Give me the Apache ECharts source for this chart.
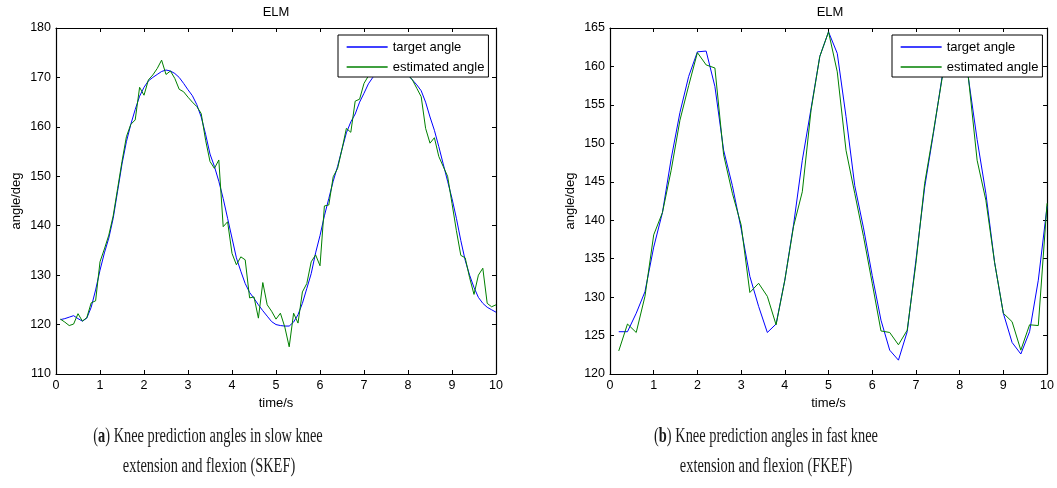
<!DOCTYPE html>
<html>
<head>
<meta charset="utf-8">
<script src="https://cdn.jsdelivr.net/npm/echarts@6/dist/echarts.min.js"></script>
<style>
  html, body { margin: 0; padding: 0; background: #fff; }
  #chart { width: 1057px; height: 488px; }
</style>
</head>
<body>
<div id="chart"></div>
<script>
// (a) slow knee extension/flexion, sampled every 0.1 s
const slowTime = [
  0.1, 0.2, 0.3, 0.4, 0.5, 0.6, 0.7, 0.8, 0.9, 1.0,
  1.1, 1.2, 1.3, 1.4, 1.5, 1.6, 1.7, 1.8, 1.9, 2.0,
  2.1, 2.2, 2.3, 2.4, 2.5, 2.6, 2.7, 2.8, 2.9, 3.0,
  3.1, 3.2, 3.3, 3.4, 3.5, 3.6, 3.7, 3.8, 3.9, 4.0,
  4.1, 4.2, 4.3, 4.4, 4.5, 4.6, 4.7, 4.8, 4.9, 5.0,
  5.1, 5.2, 5.3, 5.4, 5.5, 5.6, 5.7, 5.8, 5.9, 6.0,
  6.1, 6.2, 6.3, 6.4, 6.5, 6.6, 6.7, 6.8, 6.9, 7.0,
  7.1, 7.2, 7.3, 7.4, 7.5, 7.6, 7.7, 7.8, 7.9, 8.0,
  8.1, 8.2, 8.3, 8.4, 8.5, 8.6, 8.7, 8.8, 8.9, 9.0,
  9.1, 9.2, 9.3, 9.4, 9.5, 9.6, 9.7, 9.8, 9.9, 10.0
];
const slowTarget = [
  121.0, 121.2, 121.5, 121.8, 121.2, 120.7, 121.3, 123.5, 127.0, 131.0,
  134.5, 137.5, 141.5, 147.0, 152.5, 157.0, 160.5, 163.5, 166.2, 168.0,
  169.3, 170.0, 170.6, 171.2, 171.5, 171.3, 170.8, 170.0, 168.8, 167.5,
  166.3, 164.5, 162.0, 158.5, 154.5, 152.0, 149.0, 145.5, 141.5, 137.5,
  133.5, 130.8, 128.3, 126.5, 125.3, 124.0, 122.8, 121.7, 120.6, 120.0,
  119.8, 119.7, 119.7, 120.5, 122.0, 124.3, 127.3, 130.3, 134.5, 138.0,
  142.0, 145.5, 149.0, 152.0, 155.5, 158.8, 161.0, 162.6, 165.0, 166.8,
  168.7, 170.0, 171.0, 172.0, 172.5, 172.7, 172.5, 172.0, 171.3, 170.5,
  169.5, 168.5, 167.3, 165.0, 162.0, 159.3, 156.0, 152.5, 149.0, 145.5,
  141.5, 137.0, 133.0, 130.0, 127.5, 125.5, 124.3, 123.5, 123.0, 122.5
];
const slowEstimated = [
  121.1, 120.5, 119.8, 120.1, 122.2, 120.7, 121.4, 124.4, 124.8, 132.7,
  135.3, 138.1, 142.0, 147.5, 153.0, 158.0, 160.5, 161.4, 168.0, 166.4,
  169.5, 170.5, 171.8, 173.5, 170.6, 171.3, 169.8, 167.6, 167.1, 166.0,
  165.0, 164.1, 162.7, 157.3, 153.0, 151.6, 153.3, 139.8, 140.8, 134.4,
  132.1, 133.7, 133.1, 125.4, 125.6, 121.3, 128.5, 124.0, 122.7, 121.1,
  122.3, 119.5, 115.5, 122.3, 120.3, 126.6, 128.3, 132.7, 134.1, 131.9,
  144.0, 144.2, 149.9, 151.6, 155.5, 159.7, 158.9, 165.2, 165.6, 168.8,
  170.3, 171.0, 172.0, 172.8, 172.5, 172.0, 171.8, 171.2, 170.8, 170.5,
  169.5, 167.8, 166.1, 159.7, 156.7, 157.8, 154.0, 152.0, 150.0, 144.5,
  139.0, 134.0, 133.5, 129.5, 126.1, 130.0, 131.4, 124.3, 123.6, 124.0
];

// (b) fast knee extension/flexion, sampled every 0.2 s
const fastTime = [
  0.2, 0.4, 0.6, 0.8, 1.0, 1.2, 1.4, 1.6, 1.8, 2.0,
  2.2, 2.4, 2.6, 2.8, 3.0, 3.2, 3.4, 3.6, 3.8, 4.0,
  4.2, 4.4, 4.6, 4.8, 5.0, 5.2, 5.4, 5.6, 5.8, 6.0,
  6.2, 6.4, 6.6, 6.8, 7.0, 7.2, 7.4, 7.6, 7.8, 8.0,
  8.2, 8.4, 8.6, 8.8, 9.0, 9.2, 9.4, 9.6, 9.8, 10.0
];
const fastTarget = [
  125.5, 125.5, 127.9, 130.7, 136.5, 141.0, 148.0, 154.0, 158.7, 161.9,
  162.0, 157.4, 149.1, 144.5, 138.9, 132.7, 128.8, 125.4, 126.5, 132.2,
  139.4, 147.8, 154.5, 161.3, 164.5, 161.7, 153.5, 144.5, 139.0, 132.8,
  127.0, 123.1, 121.8, 125.5, 134.8, 144.3, 151.3, 158.7, 162.0, 163.5,
  158.5, 150.5, 143.5, 134.5, 127.9, 124.1, 122.6, 125.5, 132.2, 141.8
];
const fastEstimated = [
  123.0, 126.5, 125.4, 130.1, 138.1, 141.0, 146.5, 153.0, 157.5, 161.8,
  160.2, 159.8, 148.5, 143.5, 139.4, 130.6, 131.8, 130.1, 126.4, 132.2,
  139.2, 143.7, 154.3, 161.3, 164.5, 159.3, 149.1, 143.5, 137.9, 131.8,
  125.6, 125.4, 123.8, 125.7, 134.4, 144.8, 151.5, 158.5, 161.5, 163.0,
  158.6, 147.8, 142.6, 134.5, 127.9, 126.8, 123.1, 126.4, 126.3, 142.2
];

const xTicks = { min: 0, max: 10, interval: 1 };
const slowTicks = { min: 110, max: 180, interval: 10 };
const fastTicks = { min: 120, max: 165, interval: 5 };

const font = "'Liberation Sans', Arial, sans-serif";
const serif = "'Liberation Serif', 'Times New Roman', serif";

function pairs(xs, ys) {
  return xs.map((x, i) => [x, ys[i]]);
}

// matlab style box: labelled axis + mirrored axis with inward ticks only
function makeX(grid, position, withLabel) {
  return {
    type: "value",
    gridIndex: grid,
    position: position,
    min: xTicks.min,
    max: xTicks.max,
    interval: xTicks.interval,
    name: withLabel ? "time/s" : "",
    nameLocation: "middle",
    nameGap: 22,
    nameTextStyle: { color: "#000", fontFamily: font, fontSize: 13 },
    axisLine: { show: true, onZero: false, lineStyle: { color: "#000", width: 1.2 } },
    axisTick: { show: true, inside: true, length: 4, lineStyle: { color: "#000" } },
    axisLabel: { show: withLabel, color: "#000", fontFamily: font, fontSize: 12.5, margin: 5 },
    splitLine: { show: false },
  };
}

function makeY(grid, position, ticks, withLabel, gap) {
  return {
    type: "value",
    gridIndex: grid,
    position: position,
    min: ticks.min,
    max: ticks.max,
    interval: ticks.interval,
    name: withLabel ? "angle/deg" : "",
    nameLocation: "middle",
    nameGap: gap,
    nameTextStyle: { color: "#000", fontFamily: font, fontSize: 13 },
    axisLine: { show: true, onZero: false, lineStyle: { color: "#000", width: 1.2 } },
    axisTick: { show: true, inside: true, length: 4, lineStyle: { color: "#000" } },
    axisLabel: { show: withLabel, color: "#000", fontFamily: font, fontSize: 12.5, margin: 5 },
    splitLine: { show: false },
  };
}

function makeLegend(left) {
  return {
    left: left,
    top: 35,
    orient: "vertical",
    data: ["target angle", "estimated angle"],
    backgroundColor: "#fff",
    borderColor: "#000",
    borderWidth: 1,
    borderRadius: 0,
    padding: [5, 4, 3, 8],
    itemWidth: 41,
    itemHeight: 14,
    itemGap: 6,
    selectedMode: false,
    // hide the circle marker, keep only the line sample
    itemStyle: { opacity: 0 },
    lineStyle: { width: 1.3 },
    textStyle: { color: "#000", fontFamily: font, fontSize: 13, lineHeight: 14 },
  };
}

function caption(x, y, tag, text) {
  return {
    type: "text",
    x: x,
    y: y,
    scaleX: 0.72,
    style: {
      text: "{p|(}{b|" + tag + "}{p|) " + text + "}",
      textAlign: "center",
      textVerticalAlign: "middle",
      fill: "#1a1a1a",
      rich: {
        p: { fontFamily: serif, fontSize: 20, color: "#1a1a1a" },
        b: { fontFamily: serif, fontSize: 20, fontWeight: "bold", color: "#1a1a1a" },
      },
    },
  };
}

function captionLine(x, y, text) {
  return {
    type: "text",
    x: x,
    y: y,
    scaleX: 0.72,
    style: {
      text: text,
      textAlign: "center",
      textVerticalAlign: "middle",
      fill: "#1a1a1a",
      font: "20px " + serif,
    },
  };
}

const chart = echarts.init(document.getElementById("chart"), null, { renderer: "canvas" });

chart.setOption({
  backgroundColor: "#fff",
  animation: false,
  title: [
    { text: "ELM", left: 276, top: 6, padding: 0, textAlign: "center",
      textStyle: { color: "#000", fontFamily: font, fontSize: 13, fontWeight: "normal" } },
    { text: "ELM", left: 830, top: 6, padding: 0, textAlign: "center",
      textStyle: { color: "#000", fontFamily: font, fontSize: 13, fontWeight: "normal" } },
  ],
  legend: [makeLegend(338), makeLegend(892)],
  grid: [
    { left: 56, top: 28, width: 440, height: 346 },
    { left: 610, top: 28, width: 440, height: 346 },
  ],
  xAxis: [
    makeX(0, "bottom", true),
    makeX(1, "bottom", true),
    makeX(0, "top", false),
    makeX(1, "top", false),
  ],
  yAxis: [
    makeY(0, "left", slowTicks, true, 33),
    makeY(1, "left", fastTicks, true, 33),
    makeY(0, "right", slowTicks, false, 0),
    makeY(1, "right", fastTicks, false, 0),
  ],
  series: [
    {
      name: "target angle", type: "line", xAxisIndex: 0, yAxisIndex: 0,
      data: pairs(slowTime, slowTarget), symbol: "none",
      lineStyle: { color: "#0000ff", width: 1 }, itemStyle: { color: "#0000ff" },
    },
    {
      name: "estimated angle", type: "line", xAxisIndex: 0, yAxisIndex: 0,
      data: pairs(slowTime, slowEstimated), symbol: "none",
      lineStyle: { color: "#008000", width: 1 }, itemStyle: { color: "#008000" },
    },
    {
      name: "target angle", type: "line", xAxisIndex: 1, yAxisIndex: 1,
      data: pairs(fastTime, fastTarget), symbol: "none",
      lineStyle: { color: "#0000ff", width: 1 }, itemStyle: { color: "#0000ff" },
    },
    {
      name: "estimated angle", type: "line", xAxisIndex: 1, yAxisIndex: 1,
      data: pairs(fastTime, fastEstimated), symbol: "none",
      lineStyle: { color: "#008000", width: 1 }, itemStyle: { color: "#008000" },
    },
  ],
  graphic: [
    caption(208, 437, "a", "Knee prediction angles in slow knee"),
    captionLine(209, 467, "extension and flexion (SKEF)"),
    caption(766, 437, "b", "Knee prediction angles in fast knee"),
    captionLine(766, 467, "extension and flexion (FKEF)"),
  ],
});
</script>
</body>
</html>
